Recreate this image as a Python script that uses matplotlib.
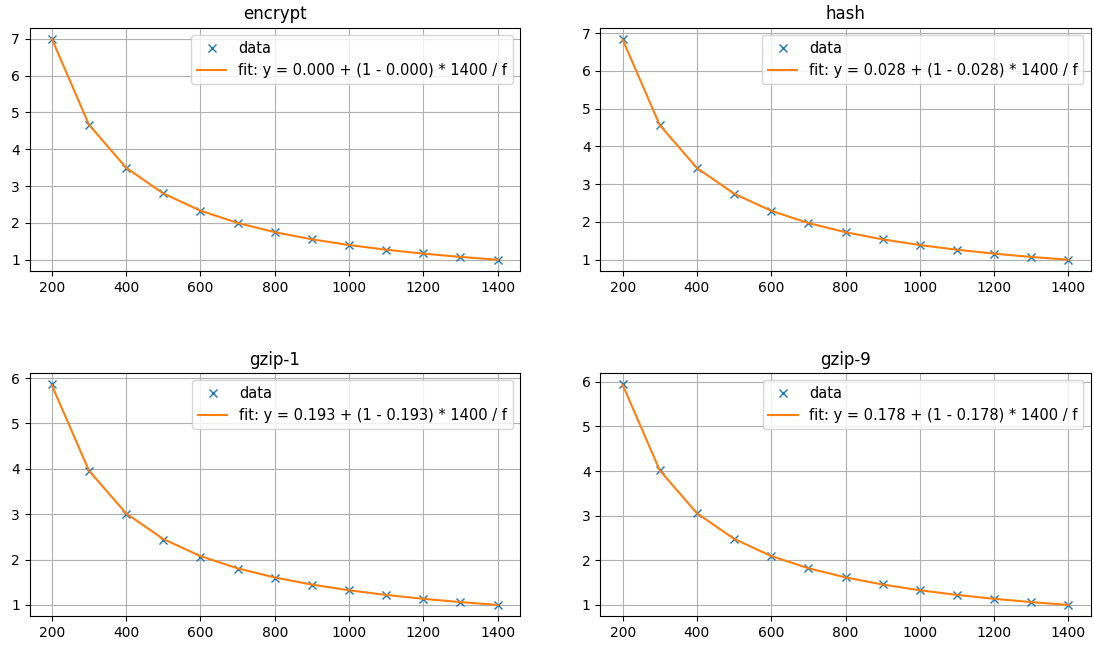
import matplotlib
matplotlib.use("Agg")
import matplotlib.pyplot as plt
import numpy as np

freqs = [200, 300, 400, 500, 600, 700, 800, 900, 1000, 1100, 1200, 1300, 1400]

titles = ["encrypt", "hash", "gzip-1", "gzip-9"]

# speedup values
encrypt = [7.00, 4.67, 3.50, 2.80, 2.33, 2.00, 1.75, 1.56, 1.40, 1.27, 1.17, 1.08, 1.00]
hash_ = [6.85, 4.57, 3.42, 2.74, 2.28, 1.97, 1.73, 1.54, 1.39, 1.27, 1.16, 1.08, 1.00]
gzip1 = [5.87, 3.95, 3.00, 2.44, 2.06, 1.80, 1.60, 1.44, 1.32, 1.22, 1.13, 1.06, 1.00]
gzip9 = [5.95, 4.02, 3.05, 2.47, 2.09, 1.82, 1.62, 1.46, 1.33, 1.23, 1.14, 1.06, 1.00]

# fitted constant part (shown in legend)
fit_a = [0.000, 0.028, 0.193, 0.178]

series = [encrypt, hash_, gzip1, gzip9]

fig, axes = plt.subplots(2, 2, figsize=(10.94, 6.45), dpi=100)
plt.subplots_adjust(left=0.027, right=0.997, top=0.957, bottom=0.045, wspace=0.164, hspace=0.42)

f = np.array(freqs, dtype=float)
for ax, title, y, a in zip(axes.flat, titles, series, fit_a):
    ax.plot(f, y, 'x', color='C0', label="data")
    ax.plot(f, a + (1 - a) * 1400 / f, '-', color='C1', label="fit: y = %.3f + (1 - %.3f) * 1400 / f" % (a, a))
    ax.set_title(title, fontsize=12)
    ax.set_xticks(np.arange(200, 1401, 200))
    ax.grid(True)
    ax.legend(loc='upper right', fontsize=10.5)

plt.savefig("out.png")
